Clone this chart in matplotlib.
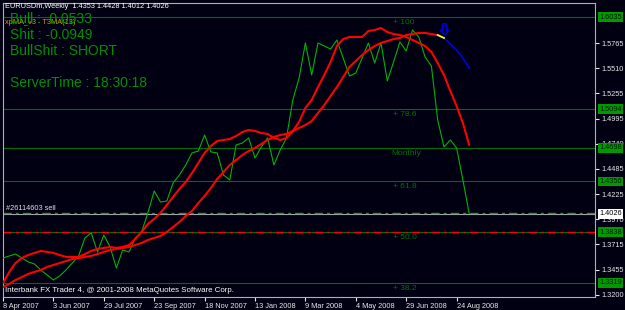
import matplotlib
matplotlib.use('Agg')
import matplotlib.pyplot as plt
from matplotlib.path import Path
import matplotlib.transforms as mtrans

plt.rcParams['font.family'] = ['Liberation Sans', 'DejaVu Sans']

# ---------------- data ----------------
week_labels = ["8 Apr 2007", "3 Jun 2007", "29 Jul 2007", "23 Sep 2007", "18 Nov 2007",
               "13 Jan 2008", "9 Mar 2008", "4 May 2008", "29 Jun 2008", "24 Aug 2008"]
label_step = 8  # weeks between date labels

close = [1.3574, 1.3595, 1.3615, 1.3574, 1.3534, 1.3513, 1.3452, 1.3401, 1.3350, 1.3391,
         1.3452, 1.3523, 1.3595, 1.3779, 1.3830, 1.3636, 1.3809, 1.3687, 1.3472, 1.3656,
         1.3636, 1.3779, 1.3840, 1.4034, 1.4259, 1.4146, 1.4156, 1.4340, 1.4422, 1.4524,
         1.4647, 1.4667, 1.4830, 1.4657, 1.4647, 1.4422, 1.4371, 1.4728, 1.4749, 1.4800,
         1.4595, 1.4708, 1.4800, 1.4524, 1.4677, 1.4800, 1.5188, 1.5412, 1.5770, 1.5443,
         1.5770, 1.5739, 1.5708, 1.5800, 1.5616, 1.5433, 1.5463, 1.5616, 1.5770, 1.5565,
         1.5770, 1.5382, 1.5576, 1.5780, 1.5688, 1.5902, 1.5831, 1.5627, 1.5535, 1.4983,
         1.4708, 1.4779, 1.4698, 1.4371, 1.4026]

fast_ma = [1.3319, 1.3432, 1.3523, 1.3574, 1.3605, 1.3626, 1.3646, 1.3636, 1.3626, 1.3605,
           1.3585, 1.3585, 1.3585, 1.3615, 1.3646, 1.3666, 1.3677, 1.3687, 1.3677, 1.3687,
           1.3707, 1.3768, 1.3840, 1.3922, 1.3973, 1.4034, 1.4116, 1.4197, 1.4279, 1.4350,
           1.4442, 1.4544, 1.4647, 1.4718, 1.4769, 1.4779, 1.4789, 1.4820, 1.4861, 1.4881,
           1.4871, 1.4851, 1.4841, 1.4800, 1.4779, 1.4800, 1.4871, 1.4963, 1.5106, 1.5188,
           1.5320, 1.5443, 1.5576, 1.5739, 1.5810, 1.5831, 1.5831, 1.5831, 1.5892, 1.5902,
           1.5923, 1.5882, 1.5861, 1.5851, 1.5831, 1.5800, 1.5770, 1.5739, 1.5678, 1.5565,
           1.5443, 1.5280, 1.5126, 1.4953, 1.4728]

t3_ma = [1.3278, 1.3309, 1.3350, 1.3380, 1.3411, 1.3432, 1.3452, 1.3483, 1.3503, 1.3523,
         1.3544, 1.3564, 1.3574, 1.3585, 1.3595, 1.3615, 1.3636, 1.3656, 1.3666, 1.3677,
         1.3687, 1.3707, 1.3728, 1.3758, 1.3779, 1.3799, 1.3840, 1.3891, 1.3942, 1.4003,
         1.4054, 1.4136, 1.4207, 1.4289, 1.4381, 1.4452, 1.4524, 1.4575, 1.4626, 1.4667,
         1.4698, 1.4738, 1.4779, 1.4810, 1.4830, 1.4841, 1.4871, 1.4902, 1.4932, 1.4973,
         1.5055, 1.5136, 1.5228, 1.5320, 1.5422, 1.5525, 1.5586, 1.5647, 1.5698, 1.5739,
         1.5770, 1.5790, 1.5810, 1.5821, 1.5851, 1.5861, 1.5872, 1.5872, 1.5861, 1.5851,
         1.5821, 1.5759, 1.5698, 1.5616, 1.5514]
t3_turn = 69  # bar where T3MA turns down (red -> blue)

level_prices = [1.6035, 1.5094, 1.4698, 1.4356, 1.3838, 1.3319]
level_labels = ["+ 100", "+ 78.6", "Monthly", "+ 61.8", "+ 50.0", "+ 38.2"]

bid_price = 1.4026
stop_price = 1.3838
axis_prices = [1.5765, 1.5510, 1.5255, 1.4995, 1.4740, 1.4485, 1.4225, 1.3970, 1.3715, 1.3455, 1.3200]

signal_idx = [70]
signal_price = [1.5892]

# ---------------- figure ----------------
W, H = 625, 310
bg = '#000012'
fig = plt.figure(figsize=(W / 100, H / 100), dpi=100)
fig.patch.set_facecolor(bg)
L, R, T, B = 3, 595, 3, 297
ax = fig.add_axes([L / W, 1 - B / H, (R - L) / W, (B - T) / H])
ax.set_facecolor(bg)

n = len(close)
xs = list(range(n))
ax.set_xlim(0, 93.97)
ax.set_ylim(1.3176, 1.6178)

for s in ['left', 'bottom', 'right', 'top']:
    ax.spines[s].set_color('#b0b0b0')
    ax.spines[s].set_linewidth(0.8)

# level lines
lvl_col = '#006e00'
for p in level_prices:
    ax.axhline(p, color=lvl_col, lw=0.8, zorder=1)
blend = mtrans.blended_transform_factory(ax.transAxes, ax.transData)
for p, lab in zip(level_prices, level_labels):
    xo = 0.656 if lab == "Monthly" else 0.659
    ax.text(xo, p - 0.0016, lab, transform=blend, color='#007400', fontsize=6,
            va='top', ha='left', zorder=2)

# bid / order lines
ax.axhline(bid_price, color='#a8a8a8', lw=0.8, zorder=2)
ax.axhline(bid_price + 0.0004, color='#3c8a3c', lw=1.0, dashes=(6, 3, 2, 3), zorder=2)
ax.axhline(stop_price + 0.0004, color='#ff0000', lw=1.0, dashes=(6, 3, 2, 3), zorder=2)
ax.text(0.005, bid_price + 0.0022, "#26114603 sell", transform=blend, color='#e0e0e0',
        fontsize=5.3, va='bottom', ha='left', zorder=3)

# series
ax.plot(xs, close, color='#00b400', lw=0.8, zorder=4)
ax.plot(xs, fast_ma, color='#ff0000', lw=1.5, zorder=5, solid_capstyle='round')
ax.plot(xs[:t3_turn + 1], t3_ma[:t3_turn + 1], color='#ff0000', lw=1.5, zorder=5,
        solid_capstyle='round')
ax.plot(xs[t3_turn:], t3_ma[t3_turn:], color='#0000e6', lw=1.2, zorder=5)
ax.plot(xs[t3_turn:t3_turn + 2], t3_ma[t3_turn:t3_turn + 2], color='#ffff00', lw=1.3, zorder=6)

arrow = Path([(-0.25, 1.0), (0.25, 1.0), (0.25, 0.15), (0.55, 0.15), (0.0, -0.45),
              (-0.55, 0.15), (-0.25, 0.15), (-0.25, 1.0)],
             [Path.MOVETO] + [Path.LINETO] * 6 + [Path.CLOSEPOLY])
ax.plot(signal_idx, signal_price, linestyle='none', marker=arrow, markersize=11,
        markerfacecolor='none', markeredgecolor='#0000e6', markeredgewidth=0.9, zorder=6)

# axes ticks
ax.yaxis.tick_right()
ax.set_yticks(axis_prices)
ax.set_yticklabels([f"{p:.4f}" for p in axis_prices])
ax.tick_params(axis='y', colors='#e8e8e8', labelsize=5.3, length=3, width=0.8, pad=1.5,
               direction='out')
ax.set_xticks([i * label_step for i in range(len(week_labels))])
ax.set_xticklabels(week_labels)
ax.tick_params(axis='x', colors='#e8e8e8', labelsize=5.3, length=3, width=0.8, pad=1.5,
               direction='out')
for lab in ax.get_xticklabels():
    lab.set_ha('left')

# price boxes on the right
for p in level_prices:
    ax.text(1.0068, p, f"{p:.4f}", transform=blend, fontsize=5.3, color='#001a00',
            va='center', ha='left', clip_on=False, zorder=20,
            bbox=dict(boxstyle='square,pad=0.18', fc='#009a00', ec='none'))
ax.text(1.0068, bid_price, f"{bid_price:.4f}", transform=blend, fontsize=5.3, color='#000000',
        va='center', ha='left', clip_on=False, zorder=21,
        bbox=dict(boxstyle='square,pad=0.18', fc='#ffffff', ec='none'))

# header / info texts
fig.text(5 / W, 1 - 7 / H, "EURUSDm,Weekly  1.4353 1.4428 1.4012 1.4026", color='#ffffff',
         fontsize=5.3, va='center', ha='left')
fig.text(5 / W, 1 - 23 / H, "xpMA_v3 - T3MA(13)", color='#e09a00', fontsize=5.3,
         va='center', ha='left')
grn = '#009000'
for txt, base in [("Bull : -0.0533", 23), ("Shit : -0.0949", 39),
                  ("BullShit : SHORT", 55), ("ServerTime : 18:30:18", 87)]:
    fig.text(10 / W, 1 - base / H, txt, color=grn, fontsize=10, va='baseline', ha='left')
fig.text(5 / W, 1 - 290 / H, "Interbank FX Trader 4, @ 2001-2008 MetaQuotes Software Corp.",
         color='#ffffff', fontsize=5.7, va='center', ha='left')

fig.savefig('out.png', dpi=100, facecolor=bg)
